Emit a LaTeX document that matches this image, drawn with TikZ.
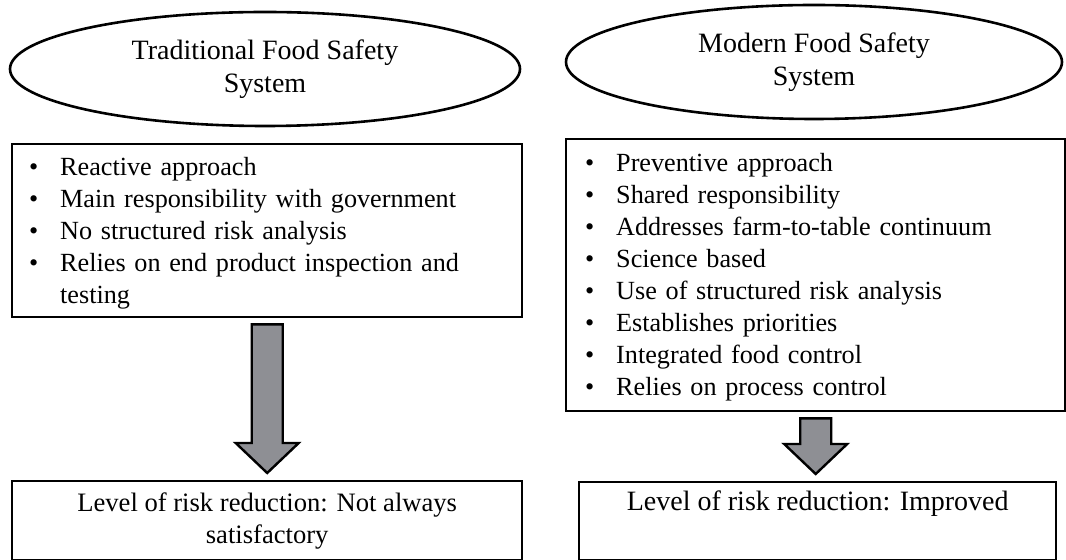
\documentclass[tikz,border=0pt]{standalone}
\usepackage{fontspec}
\setmainfont{Liberation Serif}
\usetikzlibrary{shapes.geometric, calc}

\definecolor{arrowgray}{RGB}{142,143,148}
\newcommand{\itm}{\makebox[15.5pt][l]{\textbullet}}
% fat grey arrow from the bottom of one box down to the top of the next
\newcommand{\bigdownarrow}[2]{%
  \draw [bigarrow] ($(#1.south)+(-15.5,6)$) -- ($(#1.south)+(15.5,6)$)
    -- ($(#1.south |- #2.north)+(15.5,-37)$) -- ($(#1.south |- #2.north)+(31.5,-37)$)
    -- ($(#1.south |- #2.north)+(0,-7)$) -- ($(#1.south |- #2.north)+(-31.5,-37)$)
    -- ($(#1.south |- #2.north)+(-15.5,-37)$) -- cycle;}

\begin{document}
\begin{tikzpicture}[x=0.5pt, y=-0.5pt,
    sysoval/.style={ellipse, draw, line width=1.3pt, inner sep=0pt, align=center, minimum height=57pt,
        font=\fontsize{14}{16.5}\selectfont, execute at begin node={\rule{0pt}{12.5pt}}},
    listbox/.style={rectangle, draw, line width=1.2pt, align=left, anchor=north west, inner ysep=0pt,
        font=\fontsize{13.1}{16}\selectfont, execute at begin node={\rule{0pt}{11.2pt}}},
    resbox/.style={rectangle, draw, line width=1.2pt, align=center, anchor=north west, minimum height=39.5pt,
        execute at begin node={\rule{0pt}{12.4pt}}},
    bigarrow/.style={draw=black, line width=1.2pt, fill=arrowgray, line join=miter}]
    \useasboundingbox (0,0) rectangle (1066,560);

    % the two systems
    \node [sysoval, minimum width=255pt] (tradsys) at (265,69) {Traditional Food Safety\\System};
    \node [sysoval, minimum width=248pt] (modsys) at (814,62) {Modern Food Safety\\System};

    % their features
    \node [listbox, text width=238pt, inner xsep=8.5pt, minimum height=86.5pt] (tradlist) at (11,143) {%
        \itm Reactive approach\\
        \itm Main responsibility with government\\
        \itm No structured risk analysis\\
        \itm Relies on end product inspection and\\
        \hspace*{15.5pt}testing};
    \node [listbox, text width=230.5pt, inner xsep=9.5pt, minimum height=136pt] (modlist) at (565,138) {%
        \itm Preventive approach\\
        \itm Shared responsibility\\
        \itm Addresses farm-to-table continuum\\
        \itm Science based\\
        \itm Use of structured risk analysis\\
        \itm Establishes priorities\\
        \itm Integrated food control\\
        \itm Relies on process control};

    % outcomes
    \node [resbox, minimum width=255pt, font=\fontsize{13.3}{16}\selectfont] (tradres) at (11,480)
        {Level of risk reduction: Not always\\satisfactory};
    \node [resbox, minimum width=238.5pt, minimum height=39pt, font=\fontsize{14}{16}\selectfont] (modres) at (578,481)
        {Level of risk reduction: Improved\\\strut};

    \bigdownarrow{tradlist}{tradres}
    \bigdownarrow{modlist}{modres}
\end{tikzpicture}
\end{document}
